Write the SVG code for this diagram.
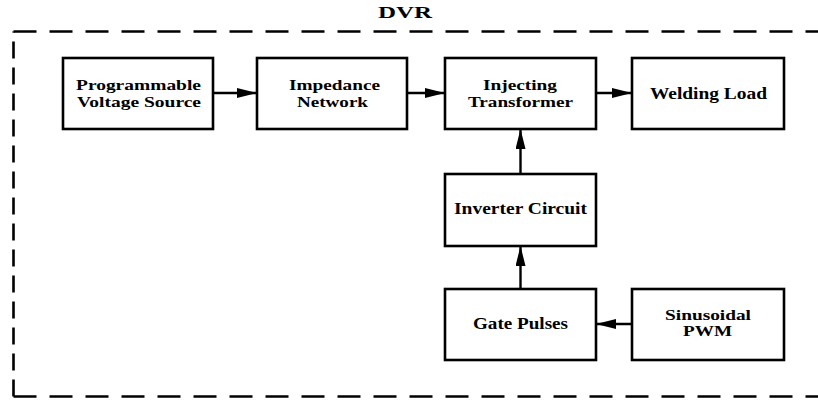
<svg xmlns="http://www.w3.org/2000/svg" width="818" height="401" viewBox="0 0 818 401">
<style>
.box{fill:#fff;stroke:#000;stroke-width:2.6}
.t{font-family:"Liberation Serif","Times New Roman",serif;font-weight:bold;font-size:16px;fill:#000}
.s{font-size:14px}
.c{stroke:#000;stroke-width:2.4;fill:none}
.bh{stroke:#000;stroke-width:2.6;fill:none;stroke-dasharray:23 13}
.bv{stroke:#000;stroke-width:2.6;fill:none;stroke-dasharray:17 9}
</style>
<defs>
<marker id="ah" viewBox="0 0 20 10" refX="20" refY="5" markerWidth="20" markerHeight="10" markerUnits="userSpaceOnUse" orient="auto">
<path d="M0,0 L20,5 L0,10 Z" fill="#000"/>
</marker>
</defs>
<g id="border">
<path class="bv" d="M13.5,396.5 L13.5,31.5"/>
<path class="bh" d="M13.5,396.5 L830,396.5"/>
<path class="bh" d="M13.5,31.5 L830,31.5"/>
<text class="t" x="378" y="18" textLength="54" lengthAdjust="spacingAndGlyphs">DVR</text>
</g>
<g id="connectors">
<line class="c" x1="213" y1="93" x2="257" y2="93" marker-end="url(#ah)"/>
<line class="c" x1="407" y1="93" x2="445" y2="93" marker-end="url(#ah)"/>
<line class="c" x1="596" y1="93" x2="632" y2="93" marker-end="url(#ah)"/>
<line class="c" x1="520.5" y1="174" x2="520.5" y2="129" marker-end="url(#ah)"/>
<line class="c" x1="520.5" y1="289" x2="520.5" y2="246" marker-end="url(#ah)"/>
<line class="c" x1="632" y1="324" x2="596" y2="324" marker-end="url(#ah)"/>
</g>
<g id="programmable">
<rect class="box" x="63" y="58" width="150" height="71"/>
<text class="t s" x="76" y="90" textLength="125" lengthAdjust="spacingAndGlyphs">Programmable</text>
<text class="t s" x="77" y="106.5" textLength="124" lengthAdjust="spacingAndGlyphs">Voltage Source</text>
</g>
<g id="impedance">
<rect class="box" x="257" y="58" width="150" height="71"/>
<text class="t s" x="289" y="90" textLength="91" lengthAdjust="spacingAndGlyphs">Impedance</text>
<text class="t s" x="297" y="106.5" textLength="71" lengthAdjust="spacingAndGlyphs">Network</text>
</g>
<g id="injecting">
<rect class="box" x="445" y="58" width="151" height="71"/>
<text class="t s" x="483" y="90" textLength="74" lengthAdjust="spacingAndGlyphs">Injecting</text>
<text class="t s" x="468" y="106.5" textLength="105" lengthAdjust="spacingAndGlyphs">Transformer</text>
</g>
<g id="welding">
<rect class="box" x="632" y="58" width="152" height="71"/>
<text class="t" x="650" y="99" textLength="117" lengthAdjust="spacingAndGlyphs">Welding Load</text>
</g>
<g id="inverter">
<rect class="box" x="445" y="174" width="151" height="72"/>
<text class="t" x="454" y="214" textLength="133" lengthAdjust="spacingAndGlyphs">Inverter Circuit</text>
</g>
<g id="gate">
<rect class="box" x="445" y="289" width="151" height="71"/>
<text class="t" x="473" y="329" textLength="95" lengthAdjust="spacingAndGlyphs">Gate Pulses</text>
</g>
<g id="sinusoidal">
<rect class="box" x="632" y="289" width="152" height="71"/>
<text class="t s" x="665" y="319.5" textLength="86" lengthAdjust="spacingAndGlyphs">Sinusoidal</text>
<text class="t s" x="683" y="336" textLength="49" lengthAdjust="spacingAndGlyphs">PWM</text>
</g>
</svg>
